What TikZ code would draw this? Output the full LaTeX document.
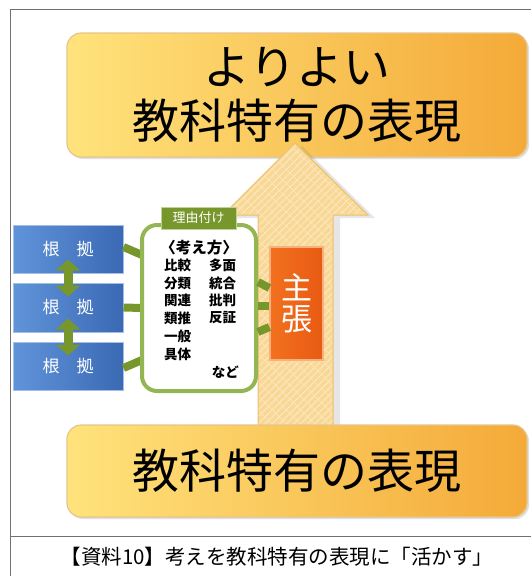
\documentclass[tikz,border=0pt]{standalone}
\usepackage{fontspec}
\setmainfont{Noto Sans CJK JP}
\usetikzlibrary{arrows.meta,calc,shadows,patterns.meta}
\definecolor{goldL}{HTML}{FFE37C}
\definecolor{goldR}{HTML}{F4AA38}
\definecolor{goldB}{HTML}{E6C58A}
\definecolor{blueL}{HTML}{6094DA}
\definecolor{blueR}{HTML}{3B69B4}
\definecolor{blueB}{HTML}{A3BFE6}
\definecolor{greenD}{HTML}{77962B}
\definecolor{greenL}{HTML}{93B552}
\definecolor{orgL}{HTML}{F2711F}
\definecolor{orgR}{HTML}{E85A12}
\definecolor{orgB}{HTML}{F7B07E}
\definecolor{arrF}{HTML}{F9D896}
\definecolor{arrB}{HTML}{EBC070}
\definecolor{frameC}{HTML}{707070}
\begin{document}
\begin{tikzpicture}[x=1pt,y=-1pt,
  frame/.style={draw=frameC,line width=0.9pt},
  goldbox/.style={draw=goldB,line width=1.2pt,rounded corners=14pt,left color=goldL,right color=goldR,
     drop shadow={shadow xshift=2pt,shadow yshift=-2pt,opacity=0.25},
     inner sep=0pt,align=center,font=\fontsize{47}{57}\selectfont},
  bluebox/.style={draw=blueB,line width=1pt,left color=blueL,right color=blueR,minimum width=110pt,
     inner sep=0pt,text=white,font=\fontsize{17}{20}\selectfont},
  bar/.style={draw=greenD,line width=8pt},
  dblarrow/.style={draw=greenD,line width=9pt,{Triangle[width=24pt,length=11pt]}-{Triangle[width=24pt,length=11pt]}},
  thinkbox/.style={draw=greenL,line width=4pt,fill=white,rounded corners=15pt,minimum width=114pt,minimum height=166pt,inner sep=0pt},
  tagbox/.style={draw=greenL!60!white,line width=0.8pt,fill=greenD,text=white,minimum width=75pt,minimum height=22pt,inner sep=0pt,font=\fontsize{13}{14}\selectfont},
  listtxt/.style={anchor=west,inner sep=0pt,font=\fontsize{13.5}{15}\selectfont\bfseries},
  claimbox/.style={draw=orgB,line width=1.2pt,left color=orgL,right color=orgR,minimum width=53pt,minimum height=113pt,
     inner sep=0pt,text=white,align=center,font=\fontsize{31}{31}\selectfont}
]
\useasboundingbox (0,0) rectangle (531,576);
% frame
\draw[frame] (10,576) -- (10,9) -- (531,9);
\draw[frame] (10,536) -- (531,536);
% top box
\node[goldbox,minimum width=460pt,minimum height=124pt] (top) at (297,95) {よりよい\\[-3pt]教科特有の表現};
% big arrow
\path[fill=arrF,draw=arrB,line width=1pt,drop shadow={shadow xshift=7pt,shadow yshift=-3pt,opacity=0.2}]
  (295,143) -- (368,215) -- (333,215) -- (333,430) -- (258,430) -- (258,215) -- (223,215) -- cycle;
\path[pattern={Lines[angle=45,distance=5pt,line width=0.7pt]},pattern color=white!55!arrF]
  (295,145) -- (365,214) -- (332,214) -- (332,430) -- (259,430) -- (259,214) -- (226,214) -- cycle;
\path[pattern={Lines[angle=-45,distance=10pt,line width=0.5pt]},pattern color=white!40!arrF]
  (295,145) -- (365,214) -- (332,214) -- (332,430) -- (259,430) -- (259,214) -- (226,214) -- cycle;
% bottom box
\node[goldbox,minimum width=460pt,minimum height=92pt] (bot) at (297,471) {教科特有の表現};
% evidence boxes
\node[bluebox,minimum height=48pt] (b1) at (68,249) {根　拠};
\node[bluebox,minimum height=49pt] (b2) at (68,307.5) {根　拠};
\node[bluebox,minimum height=48pt] (b3) at (68,366) {根　拠};
\draw[dblarrow] ($(b1.south)+(0,-14)$) -- ($(b2.north)+(0,14)$);
\draw[dblarrow] ($(b2.south)+(0,-14)$) -- ($(b3.north)+(0,14)$);
% thinking box
\coordinate (tw) at (140,308);
\draw[bar] ($(b1.east)+(0,-2)$) -- ($(tw)+(2,-53)$);
\draw[bar] (b2.east) -- ($(tw)+(2,0)$);
\draw[bar] ($(b3.east)+(0,2)$) -- ($(tw)+(2,52)$);
\node[thinkbox] (think) at (199,308) {};
\node[tagbox] (tag) at (198.5,218) {理由付け};
\node[inner sep=0pt,font=\fontsize{15.5}{16}\selectfont\bfseries] (k0) at (199,248) {〈考え方〉};
\node[listtxt] (k1) at (164,265) {比較};
\node[listtxt] (k2) at (209,265) {多面};
\node[listtxt] (k3) at (164,283) {分類};
\node[listtxt] (k4) at (209,283) {統合};
\node[listtxt] (k5) at (164,300.5) {関連};
\node[listtxt] (k6) at (209,300.5) {批判};
\node[listtxt] (k7) at (164,318) {類推};
\node[listtxt] (k8) at (209,318) {反証};
\node[listtxt] (k9) at (164,336) {一般};
\node[listtxt] (k10) at (164,354) {具体};
\node[listtxt,anchor=east] (k11) at (239,372) {など};
% claim box
\node[claimbox] (claim) at (296.5,303.5) {主\\張};
\draw[bar] ($(think.east)+(0,-26)$) -- ($(claim.west)+(0,-15.5)$);
\draw[bar] ($(think.east)+(0,-2)$) -- ($(claim.west)+(0,2.5)$);
\draw[bar] ($(think.east)+(0,24)$) -- ($(claim.west)+(0,23.5)$);
% caption
\node[inner sep=0pt,font=\fontsize{20.5}{24}\selectfont] (cap) at (277,557) {【資料10】考えを教科特有の表現に「活かす」};
\end{tikzpicture}
\end{document}
